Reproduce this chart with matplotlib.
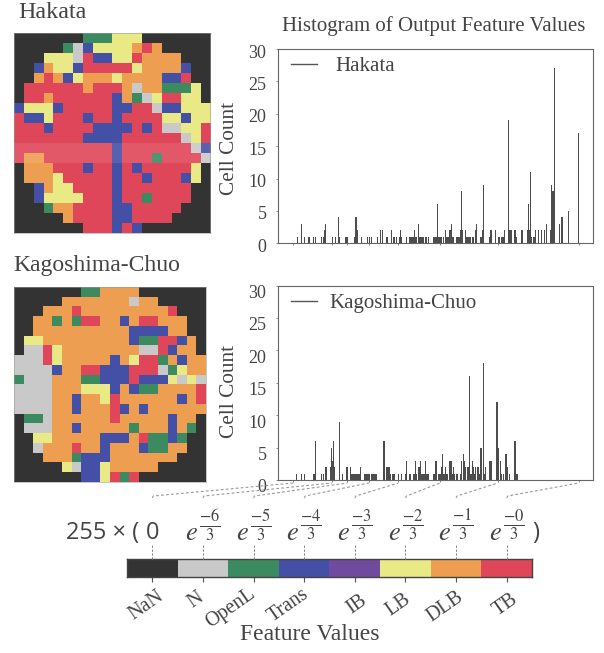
import numpy as np
import matplotlib
matplotlib.use("Agg")
import matplotlib.pyplot as plt
from matplotlib.colors import ListedColormap
from matplotlib.transforms import ScaledTranslation

plt.rcParams['font.family'] = ['Liberation Serif', 'DejaVu Serif']
plt.rcParams['mathtext.fontset'] = 'stix'

# K=NaN N=N O=OpenL T=Trans I=IB L=LB D=DLB R=TB
class_keys = "KNOTILDR"
class_names = ["NaN", "N", "OpenL", "Trans", "IB", "LB", "DLB", "TB"]
class_colors = ["#333333", "#c9c9c9", "#3c8a60", "#4450a6", "#6f4a9e", "#e9e985", "#ee9e50", "#e04659"]

hakata_map = [
    "KKKKKKKOOOLLLKKKKKKK",
    "KKKKKONTLLLLDRDKKKKK",
    "KKKLLLNRTTLLRDDDDKKK",
    "KKTDLLTRRRRRLDDDDTKK",
    "KKDRDTLDDDLDDDDTTRKK",
    "KRRRRRRDRRRDNDDOOOLK",
    "KRRDRRRRRRTDONLRRLLK",
    "TLLLTRRRRRTTRRNTTLLL",
    "RTTLRRRTRRTRRRRLLTLL",
    "RRRTRRRRTTTTRTRNNLLR",
    "RRRRRRRTTTTRRRRRRNLR",
    "RRRRRRRRRRTRRRRRRRNT",
    "RDDRRRRRRRTRRRORRRRN",
    "KDDDRRRTRRTRTRRRRRLK",
    "KDDDLRRRRRTRRTRRRTLK",
    "KKTDLLRRRRTRRRRRRRKK",
    "KKTLLLLRRRTRRORRRRKK",
    "KKKODDRRRRTTRRRRRKKK",
    "KKKKKDRRRRTTRRRRKKKK",
    "KKKKKKKRRRTRTKKKKKKK",
]

kagoshima_map = [
    "KKKKKKKOODDDDKKKKKKK",
    "KKKKKDDDDDDDNDDKKKKK",
    "KKKDDDRDDDDDDDDDRKKK",
    "KKDDODORRDDTDRRDDDKK",
    "KKDDDDDDDDDDTTTTDDKK",
    "KLLDDDDDDDDDTOORRTDK",
    "KNNRLDDDDDDDDNNRTDDK",
    "NNNRLDDDDDTDLRRODTDD",
    "NNNNTDDRRTTTRRRNOLDD",
    "ONNNDDDOOTTTRTTTLNLN",
    "NNNNDDDLLLTDTOODDDDR",
    "NNNNDDTDDLRDDDDDDTDR",
    "NNNNDDTDDDRTDTDDDDDD",
    "KOONDDDDDDRDDDDDTDDK",
    "KNNNDDTDDDDDODDDTDOK",
    "KKLLDDDDDTTTDROOTOKK",
    "KKNDDDRDDTDDDTOODDKK",
    "KKKDDDOTTTDDDDDDDKKK",
    "KKKKKLNTTLDDDDDKKKKK",
    "KKKKKKKTTLRORKKKKKKK",
]

hakata_values = [4, 7, 10, 14, 18, 20, 25, 27, 28, 29, 35, 38, 40, 41, 47, 48, 55, 56, 57, 61, 66, 68, 70, 75, 78,
                 80, 83, 84, 88, 90, 92, 95, 96, 97, 101, 104, 105, 106, 107, 108, 109, 110, 112, 113, 114, 115,
                 116, 118, 119, 121, 125, 126, 127, 128, 129, 130, 131, 132, 134, 136, 137, 138, 139, 140, 141,
                 142, 143, 146, 147, 148, 149, 150, 151, 154, 155, 156, 157, 158, 160, 161, 163, 164, 167, 168,
                 169, 170, 175, 176, 177, 181, 183, 184, 186, 187, 188, 189, 192, 193, 194, 195, 198, 199, 204,
                 205, 209, 210, 211, 212, 213, 215, 216, 219, 222, 224, 226, 230, 231, 232, 233, 238, 240, 246, 255]
hakata_counts = [1, 3, 1, 1, 1, 1, 1, 1, 2, 3, 1, 1, 4, 1, 1, 1, 1, 4, 2, 1, 1, 1, 1, 1, 2,
                 2, 1, 1, 2, 1, 1, 1, 2, 1, 1, 1, 1, 1, 1, 2, 1, 1, 3, 1, 1, 1,
                 1, 1, 1, 1, 1, 1, 1, 1, 6, 1, 1, 1, 1, 2, 1, 1, 1, 2, 3,
                 1, 1, 1, 1, 1, 2, 8, 2, 2, 1, 1, 1, 1, 1, 1, 2, 3, 1, 1,
                 2, 9, 1, 2, 2, 2, 1, 1, 1, 1, 1, 2, 19, 2, 2, 2, 2, 1, 2,
                 2, 2, 6, 2, 11, 1, 1, 2, 2, 2, 2, 3, 2, 9, 8, 27, 3, 4, 5, 17]

kagoshima_values = [3, 7, 10, 18, 19, 20, 25, 27, 29, 30, 33, 34, 35, 36, 37, 41, 44, 48, 51, 52, 53, 54, 55, 56, 57,
                    58, 59, 60, 64, 65, 66, 67, 68, 70, 71, 72, 73, 74, 81, 83, 84, 85, 86, 87, 89, 90, 94, 97, 100,
                    101, 104, 105, 107, 108, 109, 110, 112, 113, 114, 115, 116, 117, 118, 119, 120, 121, 125, 126,
                    127, 128, 130, 131, 132, 133, 134, 135, 136, 137, 138, 140, 141, 142, 143, 144, 146, 147, 149,
                    150, 152, 153, 154, 156, 157, 158, 159, 160, 161, 162, 163, 165, 166, 167, 168, 170, 171, 172,
                    175, 176, 177, 182, 183, 185, 186, 188, 190, 191, 193, 198, 199, 200]
kagoshima_counts = [1, 1, 1, 1, 1, 6, 1, 1, 2, 2, 2, 5, 3, 6, 2, 9, 1, 2, 2, 1, 1, 1, 1, 1, 1,
                    1, 1, 2, 1, 1, 1, 1, 1, 1, 1, 1, 1, 1, 6, 2, 2, 2, 2, 1, 1, 1, 1, 1, 1,
                    3, 1, 1, 1, 1, 3, 1, 2, 2, 3, 1, 1, 1, 3, 1, 1, 1, 1, 1,
                    3, 3, 1, 1, 2, 4, 1, 1, 2, 1, 1, 3, 3, 1, 2, 1, 1, 1, 1,
                    3, 4, 3, 2, 2, 16, 1, 1, 3, 2, 1, 2, 2, 1, 5, 5, 18, 1, 2,
                    3, 3, 3, 12, 5, 3, 1, 1, 4, 2, 1, 6, 1, 1]

tick_values = [0, 34.5, 48.3, 67.4, 93.8, 131, 182.6, 255]
exponents = ["-6", "-5", "-4", "-3", "-2", "-1", "-0"]

W, H = 604, 653
TEXT = "#444444"
SANS = ["Open Sans", "DejaVu Sans"]
fig = plt.figure(figsize=(W / 100, H / 100), dpi=100)
cmap = ListedColormap(class_colors)


def px_axes(x0, y0, x1, y1):
    return fig.add_axes([x0 / W, 1 - y1 / H, (x1 - x0) / W, (y1 - y0) / H])


def draw_map(box, rows):
    ax = px_axes(*box)
    grid = np.array([[class_keys.index(c) for c in row] for row in rows])
    ax.imshow(grid, cmap=cmap, vmin=-0.5, vmax=7.5, aspect="auto", interpolation="nearest")
    ax.set_xticks([])
    ax.set_yticks([])
    for s in ax.spines.values():
        s.set_color("#999999")
        s.set_linewidth(0.4)
    return ax


def draw_hist(box, values, counts, label, label_drop, textpad):
    ax = px_axes(*box)
    ax.bar(values, counts, width=1.0, color="#4d4d4d", linewidth=0)
    ax.set_xlim(-13.4, 267.7)
    ax.set_ylim(0, 30)
    ax.set_xticks(tick_values)
    ax.set_xticklabels([])
    ax.set_yticks(range(0, 31, 5))
    ax.tick_params(axis="y", labelsize=13, labelcolor=TEXT, length=1.5, width=0.6, color="#777777", pad=7)
    ax.tick_params(axis="x", length=1.5, width=0.6, color="#777777")
    # the labels sit a little under their ticks in the original
    shift = ScaledTranslation(0, -label_drop / 100, fig.dpi_scale_trans)
    for lab in ax.get_yticklabels():
        lab.set_transform(lab.get_transform() + shift)
    for s in ax.spines.values():
        s.set_color("#666666")
        s.set_linewidth(0.8)
    ax.legend(handles=[plt.Line2D([], [], color="#555555", lw=1)], labels=[label], loc="upper left",
              frameon=False, fontsize=15, labelcolor=TEXT, handlelength=1.25, handletextpad=textpad,
              bbox_to_anchor=(0.04, 0.96), borderaxespad=0, borderpad=0)
    return ax


ax_map1 = draw_map((13.5, 33.3, 210.5, 233.3), hakata_map)
ax_map1.axhspan(10.5, 12.5, color="white", alpha=0.1, linewidth=0)
draw_map((14.3, 287.3, 205.7, 482.3), kagoshima_map)

ax_hist1 = draw_hist((278.3, 49, 593, 243.3), hakata_values, hakata_counts, "Hakata", 2, 0.9)
ax_hist2 = draw_hist((278.3, 285.5, 593, 480), kagoshima_values, kagoshima_counts, "Kagoshima-Chuo", 6, 0.6)

# colour bar
ax_bar = px_axes(127, 559, 532, 577)
ax_bar.imshow(np.arange(8).reshape(1, 8), cmap=cmap, vmin=-0.5, vmax=7.5, aspect="auto")
ax_bar.set_yticks([])
ax_bar.set_xticks(range(8))
ax_bar.set_xticklabels([])
ax_bar.tick_params(axis="x", length=3.5, width=0.8, color="#555555")
for s in ax_bar.spines.values():
    s.set_color("#444444")
    s.set_linewidth(1)

# overlay in pixel coordinates for titles, equation and dotted leaders
ov = fig.add_axes([0, 0, 1, 1], zorder=5)
ov.set_xlim(0, W)
ov.set_ylim(H, 0)
ov.axis("off")
ov.patch.set_alpha(0)

ov.text(18, 12, "Hakata", fontsize=17.3, color=TEXT, va="center")
ov.text(13, 265, "Kagoshima-Chuo", fontsize=17, color=TEXT, va="center")
ov.text(434, 26, "Histogram of Output Feature Values", fontsize=15, color=TEXT, ha="center", va="center")
ov.text(230, 148, "Cell Count", fontsize=15.3, color=TEXT, rotation=90, ha="center", va="center")
ov.text(230, 391, "Cell Count", fontsize=15.3, color=TEXT, rotation=90, ha="center", va="center")
ov.text(310, 635, "Feature Values", fontsize=17, color=TEXT, ha="center", va="center")

ov.text(66.5, 533, "255 × (", fontsize=17, family=SANS, color=TEXT, va="center")

bar_px = [ax_bar.transData.transform((i, 0))[0] for i in range(8)]
ov.text(bar_px[0], 533, "0", fontsize=17, family=SANS, color=TEXT, ha="center", va="center")
for x, e in zip(bar_px[1:], exponents):
    ov.text(x - 11.5, 534, "$e$", fontsize=19, color=TEXT, ha="center", va="center")
    ov.text(x + 7, 525, r"$\frac{%s}{3}$" % e, fontsize=17, color=TEXT, ha="center", va="center")
ov.text(bar_px[-1] + 29, 533, ")", fontsize=17, family=SANS, color=TEXT, ha="center", va="center")

for v, x in zip(tick_values, bar_px):
    top_x = ax_hist2.transData.transform((v, 0))[0]
    ov.plot([x, x + 1, top_x], [498, 496, 483], color="#999999", lw=0.8, ls=(0, (2.5, 2)))
    ov.plot([x, x], [545, 559], color="#888888", lw=0.7, ls=(0, (2.5, 1.5)))

# class names are nudged by hand, the original was laid out manually
name_shift = [-6, -7, -23.5, -16, 2, -6.7, -10.6, -1]
name_y = [605, 600, 608, 605, 605, 605, 607, 605]
for x, name, dx, y in zip(bar_px, class_names, name_shift, name_y):
    ov.text(x + dx, y, name, fontsize=14.5, color=TEXT, rotation=35, ha="center", va="center")

fig.savefig("out.png", dpi=100)
